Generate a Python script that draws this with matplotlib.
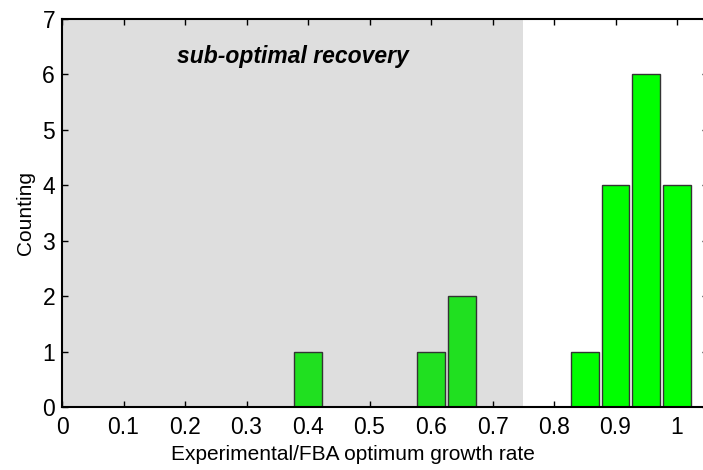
import matplotlib.pyplot as plt

plt.rcParams['font.family'] = ['Liberation Sans', 'DejaVu Sans']

# histogram of growth-rate ratios (bin centres and counts)
bin_centres = [0.40, 0.60, 0.65, 0.85, 0.90, 0.95, 1.00]
counts = [1, 1, 2, 1, 4, 6, 4]
bar_width = 0.045

# region that counts as sub-optimal recovery
suboptimal_limit = 0.75

xticks = [0, 0.1, 0.2, 0.3, 0.4, 0.5, 0.6, 0.7, 0.8, 0.9, 1]
xticklabels = ['0', '0.1', '0.2', '0.3', '0.4', '0.5', '0.6', '0.7', '0.8', '0.9', '1']
yticks = [0, 1, 2, 3, 4, 5, 6, 7]

fig = plt.figure(figsize=(7.03, 4.70), dpi=100)
ax = fig.add_axes([62 / 703, 63 / 470, 1.05 * 615 / 703, 388 / 470])

ax.axvspan(0, suboptimal_limit, color='#dedede', zorder=0, lw=0)

colours = ['#20e020' if c < suboptimal_limit else '#00ff00' for c in bin_centres]
ax.bar(bin_centres, counts, width=bar_width, color=colours,
       edgecolor='#333333', linewidth=1.0, zorder=2)

ax.text(0.376, 6.32, 'sub-optimal recovery', fontsize=16.5, fontweight='bold',
        fontstyle='italic', ha='center', va='center')

ax.set_xlim(0, 1.05)
ax.set_ylim(0, 7)
ax.set_xticks(xticks)
ax.set_xticklabels(xticklabels)
ax.set_yticks(yticks)
ax.tick_params(direction='in', length=4, width=1, top=True, right=True,
               labelsize=16.5)
ax.tick_params(axis='x', pad=6.5)
ax.tick_params(axis='y', pad=5)
for s in ax.spines.values():
    s.set_linewidth(1.5)
    s.set_zorder(3)

ax.set_xlabel('Experimental/FBA optimum growth rate', fontsize=15)
ax.xaxis.set_label_coords(0.45, -0.097)
ax.set_ylabel('Counting', fontsize=15, labelpad=5)

fig.savefig('out.png', dpi=100)
